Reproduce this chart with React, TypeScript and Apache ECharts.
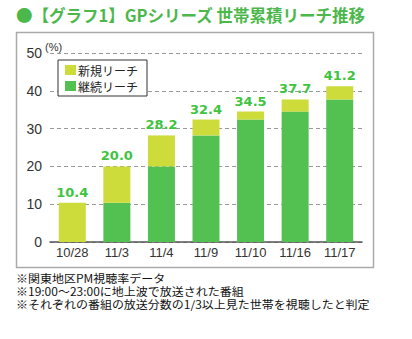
import React, { useEffect, useRef } from "react";
import * as echarts from "echarts";

const categories = ["10/28", "11/3", "11/4", "11/9", "11/10", "11/16", "11/17"];
const continuingReach = [0, 10.4, 20.0, 28.2, 32.4, 34.5, 37.7];
const newReach = [10.4, 9.6, 8.2, 4.2, 2.1, 3.2, 3.5];
const totals = ["10.4", "20.0", "28.2", "32.4", "34.5", "37.7", "41.2"];
const yTicks = [0, 10, 20, 30, 40, 50];
const titleText = "●【グラフ1】GPシリーズ 世帯累積リーチ推移";
const notes = [
  "※関東地区PM視聴率データ",
  "※19:00〜23:00に地上波で放送された番組",
  "※それぞれの番組の放送分数の1/3以上見た世帯を視聴したと判定",
];

export default function App() {
  const ref = useRef<HTMLDivElement>(null);
  useEffect(() => {
    if (!ref.current) return;
    const chart = echarts.init(ref.current, undefined, { renderer: "svg" });
    const cjk = "'Noto Sans CJK JP', 'Noto Sans', sans-serif";
    chart.setOption({
      animation: false,
      backgroundColor: "#ffffff",
      grid: { left: 50, right: 50, top: 53, bottom: 97 },
      legend: {
        data: ["新規リーチ", "継続リーチ"],
        orient: "vertical",
        left: 58,
        top: 60,
        itemWidth: 11,
        itemHeight: 10,
        itemGap: 4,
        padding: [4, 9, 4, 7],
        borderColor: "#333",
        borderWidth: 1,
        backgroundColor: "#fff",
        icon: "rect",
        textStyle: {
          fontSize: 12,
          lineHeight: 12,
          color: "#222",
          fontFamily: cjk,
          padding: [0, 0, 0, -3],
        },
        selectedMode: false,
      },
      xAxis: {
        type: "category",
        data: categories,
        axisTick: { show: false },
        axisLine: { lineStyle: { color: "#555", width: 1.5 } },
        axisLabel: {
          color: "#333",
          fontSize: 13,
          fontFamily: "'Liberation Sans', Arial, sans-serif",
          margin: 4,
        },
      },
      yAxis: {
        type: "value",
        min: yTicks[0],
        max: yTicks[yTicks.length - 1],
        interval: 10,
        axisLine: { show: false },
        axisTick: { show: false },
        axisLabel: {
          color: "#333",
          fontSize: 14,
          fontFamily: "'Liberation Sans', Arial, sans-serif",
          margin: 8,
        },
        splitLine: { lineStyle: { color: "#999", type: [4, 3], width: 1.2 } },
      },
      series: [
        {
          name: "継続リーチ",
          type: "bar",
          stack: "reach",
          data: continuingReach,
          barWidth: 27,
          itemStyle: { color: "#52c152" },
        },
        {
          name: "新規リーチ",
          type: "bar",
          stack: "reach",
          data: newReach,
          barWidth: 27,
          itemStyle: { color: "#cddc3a" },
          label: {
            show: true,
            position: "top",
            distance: 4,
            formatter: (p: any) => totals[p.dataIndex],
            color: "#3ec43e",
            fontSize: 13,
            fontWeight: "bold",
            fontFamily: "'DejaVu Sans', Verdana, sans-serif",
          },
        },
      ],
      graphic: [
        {
          type: "rect",
          shape: { x: 16.5, y: 32.5, width: 357, height: 235 },
          style: { fill: "none", stroke: "#aaa", lineWidth: 1.5 },
          z: -1,
        },
        {
          type: "text",
          x: 16,
          y: 15,
          style: {
            text: titleText,
            fill: "#4cb84c",
            font: `bold 16.5px ${cjk}`,
            textVerticalAlign: "middle",
          },
        },
        {
          type: "text",
          x: 45,
          y: 47,
          style: {
            text: "(%)",
            fill: "#333",
            font: "11px 'Liberation Sans', Arial, sans-serif",
            textVerticalAlign: "middle",
          },
        },
        ...notes.map((t, i) => ({
          type: "text",
          x: 16,
          y: 278 + i * 13,
          scaleY: 0.92,
          style: {
            text: t,
            fill: "#111",
            font: `12px ${cjk}`,
            textVerticalAlign: "middle",
          },
        })),
      ],
    });
    return () => chart.dispose();
  }, []);
  return (
    <div
      ref={ref}
      style={{ position: "fixed", left: 0, top: 0, width: 412, height: 339 }}
    />
  );
}
